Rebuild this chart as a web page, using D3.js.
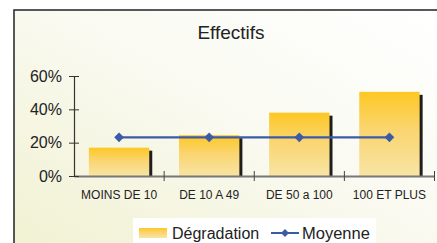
<!DOCTYPE html>
<html><head><meta charset="utf-8">
<script src="https://cdn.jsdelivr.net/npm/d3@7"></script>
<style>body{margin:0;background:#fff}svg{display:block;font-family:"Liberation Sans",Arial,sans-serif}</style>
</head><body><svg id="c" width="437" height="243"></svg>
<script>
const title = "Effectifs";
const categories = ["MOINS DE 10", "DE 10 A 49", "DE 50 a 100", "100 ET PLUS"];
const degradation = [0.17, 0.245, 0.38, 0.505];
const moyenne = [0.232, 0.232, 0.232, 0.232];
const yTicks = [0, 0.2, 0.4, 0.6];
const seriesNames = ["Dégradation", "Moyenne"];

const svg = d3.select("#c");
const defs = svg.append("defs");
const bg = defs.append("linearGradient").attr("id","bg").attr("x1","0").attr("y1","1").attr("x2","1").attr("y2","0");
bg.append("stop").attr("offset","0").attr("stop-color","#f1f1d2");
bg.append("stop").attr("offset","0.55").attr("stop-color","#fafaf2");
bg.append("stop").attr("offset","1").attr("stop-color","#ffffff");
const bar = defs.append("linearGradient").attr("id","bar").attr("x1","0").attr("y1","0").attr("x2","0").attr("y2","1");
bar.append("stop").attr("offset","0").attr("stop-color","#fdc823");
bar.append("stop").attr("offset","0.45").attr("stop-color","#fad570");
bar.append("stop").attr("offset","1").attr("stop-color","#f8e4a4");

// frame
svg.append("rect").attr("x",14).attr("y",10).attr("width",430).attr("height",240).attr("fill","url(#bg)")
  .attr("stroke","#222").attr("stroke-width",1.5);

svg.append("text").attr("x",231).attr("y",39).attr("text-anchor","middle").attr("font-size",19).attr("fill","#222").text(title);

const x = d3.scaleBand().domain(categories).range([74, 434.5]).paddingInner(0.33).paddingOuter(0.165);
const xb = d3.scaleBand().domain(categories).range([74, 434.5]);
const y = d3.scaleLinear().domain([0, 0.6]).range([176, 76]);

// bars shadow
svg.append("g").selectAll("rect").data(degradation).join("rect")
  .attr("x",(d,i)=>x(categories[i])+3).attr("y",d=>y(d)+3)
  .attr("width",x.bandwidth()).attr("height",d=>y(0)-y(d)-2).attr("fill","#1e1e1e");
svg.append("g").selectAll("rect").data(degradation).join("rect")
  .attr("x",(d,i)=>x(categories[i])).attr("y",d=>y(d))
  .attr("width",x.bandwidth()).attr("height",d=>y(0)-y(d)).attr("fill","url(#bar)");

// x axis
const xAxis = svg.append("g").attr("transform","translate(0,176)")
  .call(d3.axisBottom(xb).tickSize(0).tickPadding(14));
xAxis.select(".domain").attr("stroke","#777").attr("stroke-width",2);
xAxis.selectAll("text").attr("font-size",12).attr("fill","#222").attr("font-family","Liberation Sans, Arial, sans-serif");
const bounds = categories.map(c=>xb(c)+xb.bandwidth());
svg.append("g").selectAll("line").data(bounds).join("line")
  .attr("x1",d=>d).attr("x2",d=>d).attr("y1",171).attr("y2",181).attr("stroke","#444").attr("stroke-width",1);

// y axis
const yAxis = svg.append("g").attr("transform","translate(74,0)")
  .call(d3.axisLeft(y).tickValues(yTicks).tickFormat(d3.format(".0%")).tickSizeInner(5).tickSizeOuter(0).tickPadding(8));
yAxis.select(".domain").attr("stroke","#333").attr("stroke-width",1.2);
yAxis.selectAll(".tick line").attr("x2",5).attr("x1",-5).attr("stroke","#333");
yAxis.selectAll("text").attr("font-size",16).attr("fill","#222").attr("font-family","Liberation Sans, Arial, sans-serif").attr("x",-12);

// line
const cx = (d,i)=>xb(categories[i])+xb.bandwidth()/2;
svg.append("path").datum(moyenne).attr("fill","none").attr("stroke","#3c5ba6").attr("stroke-width",2.2)
  .attr("d", d3.line().x(cx).y(d=>y(d)));
svg.append("g").selectAll("path").data(moyenne).join("path")
  .attr("transform",(d,i)=>`translate(${cx(d,i)},${y(d)})`)
  .attr("d", d3.symbol(d3.symbolDiamond2 || d3.symbolDiamond, 60)).attr("fill","#3c5ba6");

// legend
const lg = svg.append("g");
lg.append("rect").attr("x",133).attr("y",218).attr("width",243).attr("height",30).attr("fill","#fff");
lg.append("rect").attr("x",139).attr("y",228).attr("width",28).attr("height",10).attr("fill","url(#bar)");
lg.append("text").attr("x",172).attr("y",238.5).attr("font-size",16).attr("fill","#222").text(seriesNames[0]);
lg.append("line").attr("x1",271).attr("x2",299).attr("y1",233).attr("y2",233).attr("stroke","#3c5ba6").attr("stroke-width",2);
lg.append("path").attr("transform","translate(285,233)").attr("d", d3.symbol(d3.symbolDiamond2 || d3.symbolDiamond, 40)).attr("fill","#3c5ba6");
lg.append("text").attr("x",302).attr("y",238.5).attr("font-size",16.5).attr("fill","#222").text(seriesNames[1]);
</script></body></html>
